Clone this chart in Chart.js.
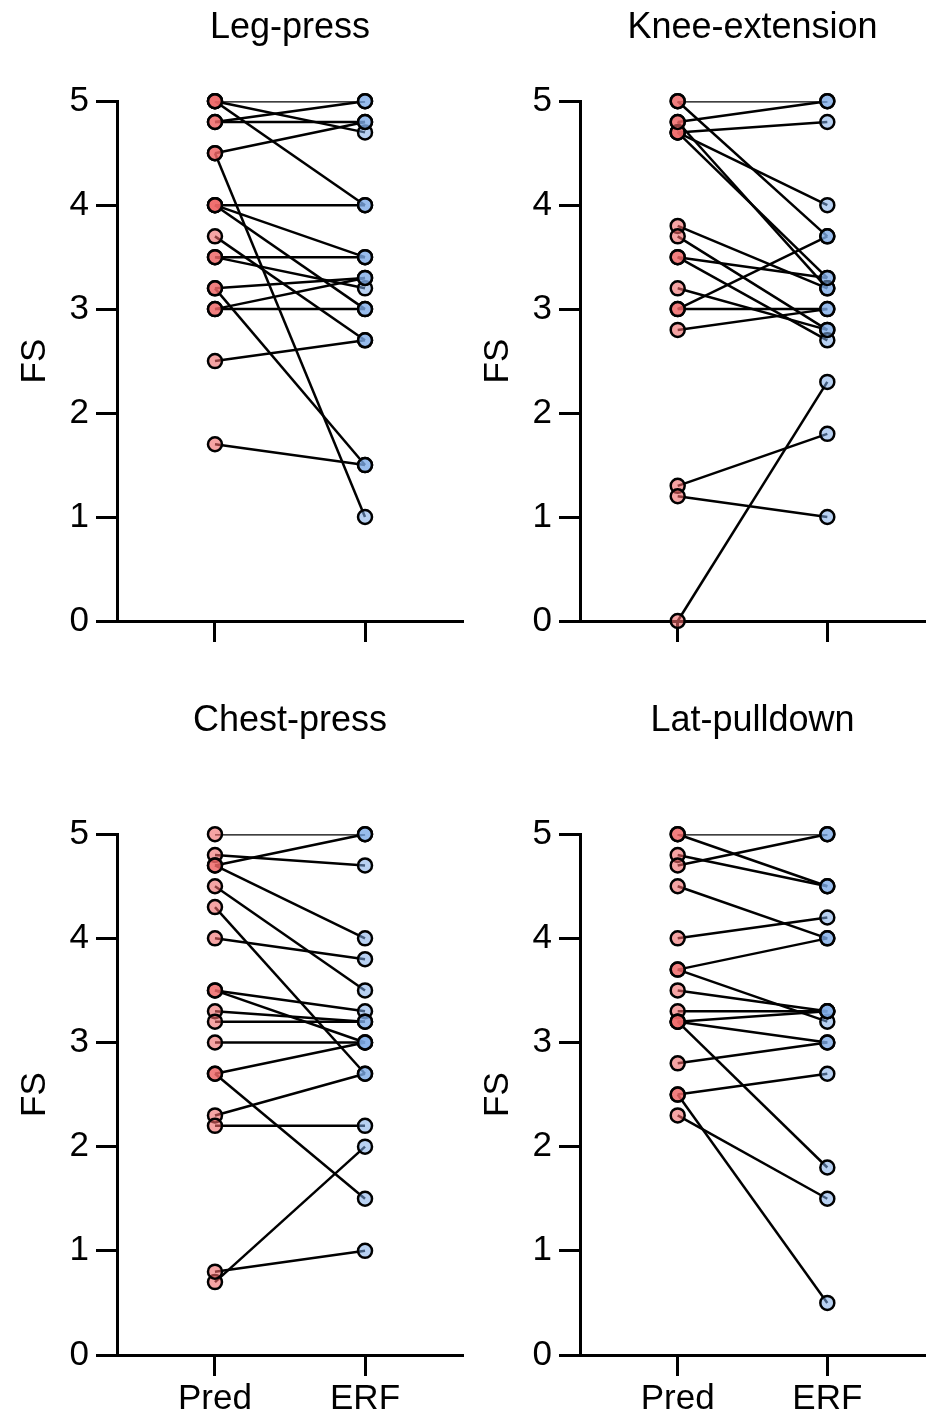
<!DOCTYPE html>
<html>
<head>
<meta charset="utf-8">
<script src="https://cdn.jsdelivr.net/npm/chart.js@4.4.1/dist/chart.umd.min.js"></script>
<style>
  body { margin: 0; background: #fff; }
  #wrap { position: relative; width: 930px; height: 1416px; }
  canvas { position: absolute; }
</style>
</head>
<body>
<div id="wrap">
  <canvas id="legPress" width="465" height="690" style="left:0;top:0"></canvas>
  <canvas id="kneeExt" width="467" height="690" style="left:463px;top:0"></canvas>
  <canvas id="chestPress" width="465" height="726" style="left:0;top:690px"></canvas>
  <canvas id="latPull" width="467" height="726" style="left:463px;top:690px"></canvas>
</div>
<script>
// groups on the x axis, y ticks
const groups = ['Pred', 'ERF'];
const yTicks = [0, 1, 2, 3, 4, 5];
const titles = ['Leg-press', 'Knee-extension', 'Chest-press', 'Lat-pulldown'];

// one entry per participant: predicted FS and ERF FS
const legPressPred = [5.0, 5.0, 5.0, 4.8, 4.8, 4.5, 4.5, 4.0, 4.0, 4.0, 3.7, 3.5, 3.5, 3.2, 3.2, 3.0, 3.0, 2.5, 1.7];
const legPressErf  = [5.0, 4.7, 4.0, 5.0, 4.8, 4.8, 1.0, 4.0, 3.5, 3.0, 2.7, 3.5, 3.2, 3.3, 1.5, 3.3, 3.0, 2.7, 1.5];

const kneeExtPred = [5.0, 5.0, 4.8, 4.7, 4.7, 4.7, 4.8, 3.8, 3.7, 3.5, 3.5, 3.2, 3.0, 3.0, 2.8, 1.3, 1.2, 0.0];
const kneeExtErf  = [5.0, 3.7, 5.0, 4.8, 4.0, 3.3, 3.2, 3.2, 2.8, 3.3, 2.7, 2.8, 3.7, 3.0, 3.0, 1.8, 1.0, 2.3];

const chestPressPred = [5.0, 4.8, 4.7, 4.7, 4.5, 4.3, 4.0, 3.5, 3.5, 3.3, 3.2, 3.0, 2.7, 2.7, 2.3, 2.2, 0.7, 0.8];
const chestPressErf  = [5.0, 4.7, 5.0, 4.0, 3.5, 2.7, 3.8, 3.3, 3.0, 3.2, 3.2, 3.0, 3.0, 1.5, 2.7, 2.2, 2.0, 1.0];

const latPullPred = [5.0, 5.0, 4.8, 4.7, 4.5, 4.0, 3.7, 3.7, 3.5, 3.3, 3.2, 3.2, 3.2, 2.8, 2.5, 2.5, 2.3];
const latPullErf  = [5.0, 4.5, 4.5, 5.0, 4.0, 4.2, 4.0, 3.2, 3.3, 3.3, 3.3, 3.0, 1.8, 3.0, 2.7, 0.5, 1.5];

const FONT = "'Liberation Sans', Arial, sans-serif";
const predFill = 'rgba(239, 104, 104, 0.6)';
const erfFill = 'rgba(125, 172, 232, 0.55)';

function makePanel(canvasId, title, pred, erf, o) {
  const ctx = document.getElementById(canvasId).getContext('2d');

  // one thin black segment per participant, drawn under the circles
  const lines = pred.map((p, i) => ({
    data: [{ x: 1, y: p }, { x: 2, y: erf[i] }],
    showLine: true,
    borderColor: '#000',
    borderWidth: 2.5,
    pointRadius: 0,
    fill: false,
    clip: { left: false, right: false, top: 0, bottom: false },
    order: 1
  }));

  const pointStyle = {
    borderColor: '#000',
    borderWidth: 2.5,
    pointRadius: 7,
    clip: false,
    order: 0
  };

  const tickGrid = {
    display: true,
    drawOnChartArea: false,
    drawTicks: true,
    tickLength: 21,
    tickWidth: 3,
    tickColor: '#000'
  };

  return new Chart(ctx, {
    type: 'scatter',
    data: {
      datasets: [
        ...lines,
        Object.assign({ data: pred.map(v => ({ x: 1, y: v })), backgroundColor: predFill }, pointStyle),
        Object.assign({ data: erf.map(v => ({ x: 2, y: v })), backgroundColor: erfFill }, pointStyle)
      ]
    },
    options: {
      responsive: false,
      animation: false,
      layout: { autoPadding: false, padding: { left: 0, right: o.padRight, top: 0, bottom: 0 } },
      plugins: {
        legend: { display: false },
        tooltip: { enabled: false },
        title: {
          display: true,
          text: title,
          fullSize: false,
          color: '#000',
          font: { family: FONT, size: 36, weight: 'normal' },
          padding: { top: o.titleTop, bottom: o.titleBottom }
        }
      },
      scales: {
        x: {
          type: 'linear',
          min: 0.347,
          max: 2.653,
          afterBuildTicks: s => { s.ticks = groups.map((g, i) => ({ value: i + 1 })); },
          afterFit: s => {
            s.height = o.xHeight;
            s.paddingLeft = 0;
            s.paddingRight = 0;
          },
          ticks: {
            autoSkip: false,
            maxRotation: 0,
            padding: 2,
            color: '#000',
            font: { family: FONT, size: 35 },
            callback: (v, i) => o.showLabels ? groups[i] : ''
          },
          grid: tickGrid,
          border: { display: true, color: '#000', width: 3 }
        },
        y: {
          min: 0,
          max: 5,
          afterBuildTicks: s => { s.ticks = yTicks.map(v => ({ value: v })); },
          afterFit: s => {
            s.width = 117;
            s.paddingTop = 0;
            s.paddingBottom = 0;
          },
          ticks: {
            padding: 7,
            color: '#000',
            font: { family: FONT, size: 35 }
          },
          grid: tickGrid,
          border: { display: true, color: '#000', width: 3 },
          title: {
            display: true,
            text: 'FS',
            color: '#000',
            font: { family: FONT, size: 35 },
            padding: { top: 14, bottom: 0 }
          }
        }
      }
    }
  });
}

const topRow = { titleTop: 6, titleBottom: 52, xHeight: 69, showLabels: false };
const bottomRow = { titleTop: 9, titleBottom: 92, xHeight: 61, showLabels: true };

makePanel('legPress', titles[0], legPressPred, legPressErf, Object.assign({ padRight: 2 }, topRow));
makePanel('kneeExt', titles[1], kneeExtPred, kneeExtErf, Object.assign({ padRight: 5 }, topRow));
makePanel('chestPress', titles[2], chestPressPred, chestPressErf, Object.assign({ padRight: 2 }, bottomRow));
makePanel('latPull', titles[3], latPullPred, latPullErf, Object.assign({ padRight: 5 }, bottomRow));
</script>
</body>
</html>
